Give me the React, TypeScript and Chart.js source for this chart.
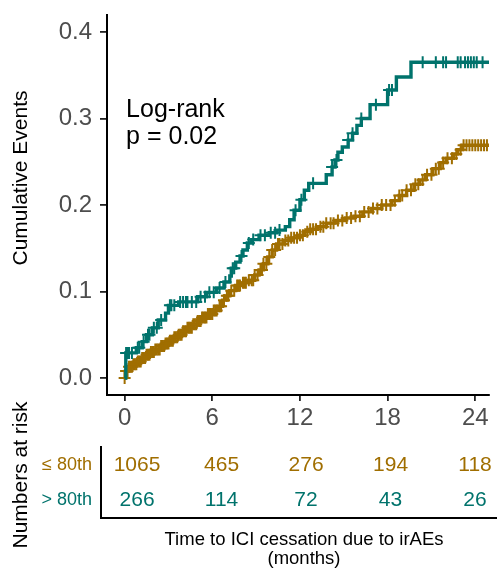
import React, { useEffect, useRef } from 'react';
import { Chart, registerables } from 'chart.js';

Chart.register(...registerables);

const FONT = "'Liberation Sans', Arial, Helvetica, sans-serif";

// ---------- data ----------
const groups = ['≤ 80th', '> 80th'];
const groupColors = ['#A06E00', '#00736C'];

// ≤ 80th : cumulative incidence step points
const lowTimes = [0, 0.05, 0.3, 0.6, 0.9, 1.2, 1.5, 1.8, 2.1, 2.5, 2.8, 3.1, 3.4, 3.7, 4.0, 4.3, 4.7, 5.0, 5.3, 5.7, 6.1, 6.4, 6.7, 6.9, 7.2, 7.6, 8.0, 8.5, 8.9, 9.2, 9.5, 9.8, 10.1, 10.4, 10.9, 11.4, 11.9, 12.3, 12.7, 13.2, 13.8, 14.4, 15.1, 15.7, 16.3, 16.9, 17.6, 18.3, 18.8, 19.3, 19.8, 20.2, 20.6, 21.1, 21.6, 22.0, 22.5, 22.8, 23.1];
const lowCum = [0, 0.008, 0.013, 0.016, 0.019, 0.023, 0.027, 0.030, 0.033, 0.037, 0.040, 0.043, 0.047, 0.050, 0.054, 0.058, 0.062, 0.066, 0.070, 0.074, 0.078, 0.083, 0.090, 0.095, 0.101, 0.107, 0.110, 0.113, 0.119, 0.125, 0.132, 0.140, 0.148, 0.155, 0.159, 0.162, 0.165, 0.169, 0.172, 0.175, 0.179, 0.182, 0.185, 0.187, 0.192, 0.196, 0.200, 0.205, 0.211, 0.217, 0.224, 0.229, 0.235, 0.242, 0.249, 0.254, 0.259, 0.264, 0.269];
const lowCensorTimes = [0.0, 0.1, 0.2, 0.3, 0.4, 0.5, 0.6, 0.7, 0.8, 0.9, 1.0, 1.1, 1.2, 1.3, 1.4, 1.5, 1.6, 1.7, 1.8, 1.9, 2.0, 2.1, 2.2, 2.3, 2.4, 2.5, 2.6, 2.7, 2.8, 2.9, 3.0, 3.1, 3.2, 3.3, 3.4, 3.5, 3.6, 3.7, 3.8, 3.9, 4.0, 4.1, 4.2, 4.3, 4.4, 4.5, 4.6, 4.7, 4.8, 4.9, 5.0, 5.1, 5.2, 5.3, 5.4, 5.5, 5.6, 5.7, 5.8, 5.9, 6.0, 6.1, 6.2, 6.3, 6.5, 6.6, 6.8, 7.0, 7.1, 7.3, 7.5, 7.7, 7.8, 7.9, 8.1, 8.2, 8.3, 8.5, 8.7, 8.8, 8.9, 9.1, 9.3, 9.4, 9.5, 9.7, 9.9, 10.1, 10.3, 10.5, 10.6, 10.8, 11.0, 11.2, 11.4, 11.6, 11.8, 12.0, 12.2, 12.5, 12.7, 12.9, 13.1, 13.4, 13.6, 13.8, 14.1, 14.3, 14.6, 14.9, 15.2, 15.5, 15.8, 16.1, 16.4, 16.7, 17.0, 17.3, 17.6, 17.9, 18.2, 18.5, 18.8, 19.0, 19.3, 19.6, 19.9, 20.1, 20.4, 20.7, 21.0, 21.3, 21.5, 21.8, 22.1, 22.4, 22.7, 23.0, 23.2, 23.4, 23.6, 23.8, 24.0, 24.2, 24.4, 24.6, 24.8];

// > 80th : cumulative incidence step points
const highTimes = [0, 0.08, 0.8, 1.2, 1.5, 1.9, 2.3, 2.8, 3.0, 3.7, 5.0, 5.6, 6.3, 6.8, 7.2, 7.3, 7.6, 7.9, 8.1, 8.4, 8.7, 9.2, 9.9, 10.4, 11.0, 11.3, 11.6, 12.0, 12.3, 12.6, 13.8, 14.2, 14.4, 14.6, 14.9, 15.3, 15.6, 15.9, 16.2, 16.8, 18.0, 18.6, 19.6];
const highCum = [0, 0.029, 0.035, 0.042, 0.050, 0.058, 0.067, 0.075, 0.084, 0.088, 0.094, 0.099, 0.104, 0.111, 0.118, 0.127, 0.134, 0.141, 0.148, 0.156, 0.160, 0.165, 0.168, 0.171, 0.175, 0.183, 0.194, 0.206, 0.217, 0.225, 0.235, 0.244, 0.252, 0.261, 0.267, 0.275, 0.283, 0.292, 0.300, 0.316, 0.333, 0.348, 0.365];
const highCensorTimes = [0.1, 0.2, 0.3, 0.5, 0.9, 1.0, 1.3, 1.6, 1.7, 2.0, 2.2, 2.5, 3.1, 3.2, 3.4, 3.8, 4.0, 4.2, 4.3, 4.6, 4.9, 5.2, 5.5, 5.8, 6.1, 6.5, 6.9, 7.4, 7.5, 8.0, 8.5, 8.8, 9.3, 9.6, 10.0, 10.3, 10.6, 11.7, 12.1, 12.9, 14.2, 14.5, 15.3, 15.6, 16.2, 17.2, 18.1, 18.3, 20.4, 21.3, 21.8, 22.0, 22.8, 23.0, 23.3, 23.5, 23.7, 23.9, 24.1, 24.5];

const followUpEnd = 25.5;

const xTicks = [0, 6, 12, 18, 24];
const yTicks = [0, 0.1, 0.2, 0.3, 0.4];
const yTickLabels = ['0.0', '0.1', '0.2', '0.3', '0.4'];

const riskTimes = [0, 6, 12, 18, 24];
const riskLow = [1065, 465, 276, 194, 118];
const riskHigh = [266, 114, 72, 43, 26];

const logRankLines = ['Log-rank', 'p = 0.02'];
const logRankAt = [0.1, 0.31];

const yTitle = 'Cumulative Events';
const tableTitle = 'Numbers at risk';
const xTitleLines = ['Time to ICI cessation due to irAEs', '(months)'];

// ---------- helpers ----------
function stepAt(times: number[], values: number[], t: number) {
  let v = values[0];
  for (let i = 0; i < times.length; i++) {
    if (times[i] <= t) v = values[i];
    else break;
  }
  return v;
}
function curve(times: number[], values: number[]) {
  const pts = times.map((t, i) => ({ x: t, y: values[i] }));
  pts.push({ x: followUpEnd, y: values[values.length - 1] });
  return pts;
}
function censor(times: number[], values: number[], cens: number[]) {
  return cens.map((t) => ({ x: t, y: stepAt(times, values, t) }));
}

const mainTextPlugin = {
  id: 'mainText',
  afterDraw(chart: any) {
    const { ctx, scales } = chart;
    const x = scales.x;
    const y = scales.y;
    ctx.save();
    ctx.fillStyle = '#000';
    ctx.font = `25px ${FONT}`;
    ctx.textAlign = 'left';
    ctx.textBaseline = 'middle';
    const px = x.getPixelForValue(logRankAt[0]);
    const py = y.getPixelForValue(logRankAt[1]);
    logRankLines.forEach((l, i) => ctx.fillText(l, px, py + i * 27));
    ctx.translate(21, 178);
    ctx.rotate(-Math.PI / 2);
    ctx.textAlign = 'center';
    ctx.font = `21px ${FONT}`;
    ctx.fillText(yTitle, 0, 0);
    ctx.restore();
  },
};

const tableTextPlugin = {
  id: 'tableText',
  afterDatasetsDraw(chart: any) {
    const { ctx } = chart;
    ctx.save();
    ctx.textAlign = 'center';
    ctx.textBaseline = 'middle';
    ctx.font = `21px ${FONT}`;
    chart.data.datasets.forEach((ds: any, i: number) => {
      const meta = chart.getDatasetMeta(i);
      ctx.fillStyle = ds.textColor;
      meta.data.forEach((el: any, j: number) => {
        ctx.fillText(String(ds.counts[j]), el.x, el.y);
      });
    });
    ctx.fillStyle = '#000';
    ctx.font = `18.5px ${FONT}`;
    xTitleLines.forEach((l, i) => ctx.fillText(l, 304, 540 + i * 19));
    ctx.translate(21, 475);
    ctx.rotate(-Math.PI / 2);
    ctx.font = `21px ${FONT}`;
    ctx.fillText(tableTitle, 0, 0);
    ctx.restore();
  },
};

export default function App() {
  const mainRef = useRef<HTMLCanvasElement>(null);
  const tableRef = useRef<HTMLCanvasElement>(null);

  useEffect(() => {
    Chart.defaults.font.family = FONT;
    const main = new Chart(mainRef.current as HTMLCanvasElement, {
      type: 'line',
      data: {
        datasets: [
          {
            label: groups[0],
            data: curve(lowTimes, lowCum),
            borderColor: groupColors[0],
            borderWidth: 3.4,
            stepped: 'before',
            pointRadius: 0,
            fill: false,
            order: 4,
          },
          {
            label: groups[0] + ' censored',
            data: censor(lowTimes, lowCum, lowCensorTimes),
            showLine: false,
            pointStyle: 'cross',
            pointRadius: 6,
            borderColor: groupColors[0],
            backgroundColor: groupColors[0],
            borderWidth: 2,
            order: 3,
          },
          {
            label: groups[1],
            data: curve(highTimes, highCum),
            borderColor: groupColors[1],
            borderWidth: 3.4,
            stepped: 'before',
            pointRadius: 0,
            fill: false,
            order: 2,
          },
          {
            label: groups[1] + ' censored',
            data: censor(highTimes, highCum, highCensorTimes),
            showLine: false,
            pointStyle: 'cross',
            pointRadius: 6,
            borderColor: groupColors[1],
            backgroundColor: groupColors[1],
            borderWidth: 2,
            order: 1,
          },
        ] as any,
      },
      options: {
        animation: false,
        responsive: false,
        maintainAspectRatio: false,
        events: [],
        layout: { padding: { top: 15, left: 0, right: 0, bottom: 146 } },
        plugins: { legend: { display: false }, tooltip: { enabled: false } },
        scales: {
          x: {
            type: 'linear',
            min: -1.207,
            max: 24.94,
            afterBuildTicks: (s: any) => {
              s.ticks = xTicks.map((v) => ({ value: v }));
            },
            afterFit: (s: any) => {
              s.height = 30;
              s.paddingLeft = 0;
              s.paddingRight = 0;
            },
            grid: { display: true, drawOnChartArea: false, drawTicks: true, tickLength: 6, color: '#222', lineWidth: 1.8 },
            border: { display: true, color: '#000', width: 2 },
            ticks: {
              color: '#4D4D4D',
              font: { family: FONT, size: 24 },
              padding: 3,
              maxRotation: 0,
              autoSkip: false,
              callback: (v: any) => String(v),
            },
          },
          y: {
            type: 'linear',
            min: -0.01965,
            max: 0.41965,
            afterBuildTicks: (s: any) => {
              s.ticks = yTicks.map((v) => ({ value: v }));
            },
            afterFit: (s: any) => {
              s.width = 107;
              s.paddingTop = 0;
              s.paddingBottom = 0;
            },
            grid: { display: true, drawOnChartArea: false, drawTicks: true, tickLength: 7, color: '#222', lineWidth: 1.8 },
            border: { display: true, color: '#000', width: 2 },
            ticks: {
              color: '#4D4D4D',
              font: { family: FONT, size: 24 },
              padding: 8,
              autoSkip: false,
              callback: (v: any) => yTickLabels[yTicks.indexOf(Math.round(Number(v) * 10) / 10)] ?? '',
            },
          },
        },
      } as any,
      plugins: [mainTextPlugin],
    });

    const table = new Chart(tableRef.current as HTMLCanvasElement, {
      type: 'scatter',
      data: {
        datasets: [
          {
            label: groups[0],
            data: riskTimes.map((t) => ({ x: t, y: groups[0] })),
            counts: riskLow,
            textColor: groupColors[0],
            pointRadius: 0,
          },
          {
            label: groups[1],
            data: riskTimes.map((t) => ({ x: t, y: groups[1] })),
            counts: riskHigh,
            textColor: groupColors[1],
            pointRadius: 0,
          },
        ] as any,
      },
      options: {
        animation: false,
        responsive: false,
        maintainAspectRatio: false,
        events: [],
        layout: { padding: { top: 447, left: 0, right: 0, bottom: 0 } },
        plugins: { legend: { display: false }, tooltip: { enabled: false } },
        scales: {
          x: {
            type: 'linear',
            min: -2.56,
            max: 25.56,
            ticks: { display: false },
            grid: { display: false, drawTicks: false },
            border: { display: true, color: '#000', width: 2 },
            afterFit: (s: any) => {
              s.height = 53;
              s.paddingLeft = 0;
              s.paddingRight = 0;
            },
          },
          y: {
            type: 'category',
            labels: groups,
            offset: true,
            grid: { display: false, drawTicks: false },
            border: { display: true, color: '#000', width: 2 },
            ticks: {
              color: (c: any) => groupColors[c.index],
              font: { family: FONT, size: 18 },
              padding: 9,
            },
            afterFit: (s: any) => {
              s.width = 101;
              s.paddingTop = 0;
              s.paddingBottom = 0;
            },
          },
        },
      } as any,
      plugins: [tableTextPlugin],
    });

    return () => {
      main.destroy();
      table.destroy();
    };
  }, []);

  return (
    <div style={{ position: 'absolute', left: 0, top: 0, width: 497, height: 571, background: '#fff', overflow: 'hidden' }}>
      <canvas ref={mainRef} width={497} height={571} style={{ position: 'absolute', left: 0, top: 0, width: 497, height: 571 }} />
      <canvas ref={tableRef} width={497} height={571} style={{ position: 'absolute', left: 0, top: 0, width: 497, height: 571 }} />
    </div>
  );
}
